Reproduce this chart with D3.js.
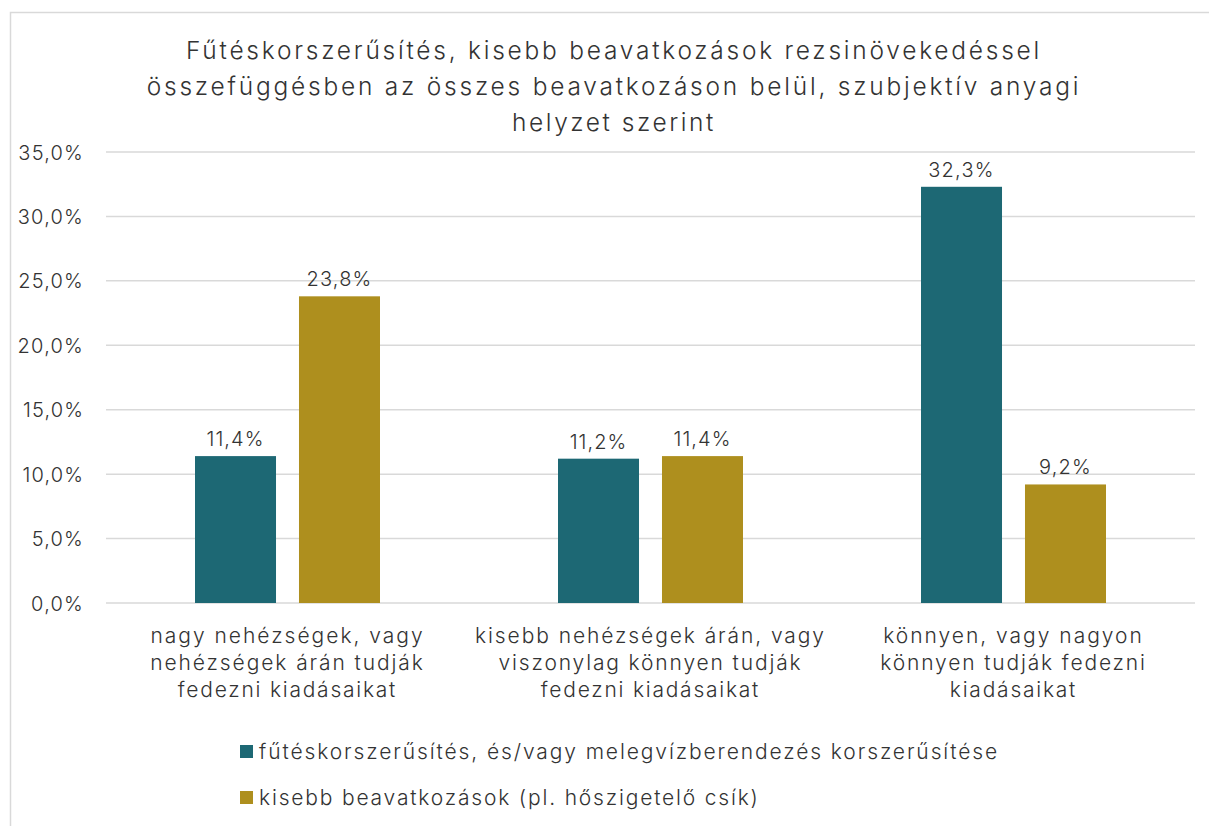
<!DOCTYPE html>
<html><head><meta charset="utf-8">
<script src="https://cdn.jsdelivr.net/npm/d3@7/dist/d3.min.js"></script>
<style>body{margin:0;background:#fff;}svg{display:block;font-family:Inter,"Open Sans",sans-serif;}</style>
</head><body><svg id="c" width="1209" height="826"></svg>
<script>
const titleLines = ["Fűtéskorszerűsítés, kisebb beavatkozások rezsinövekedéssel","összefüggésben az összes beavatkozáson belül, szubjektív anyagi","helyzet szerint"];
const categories = [
  ["nagy nehézségek, vagy","nehézségek árán tudják","fedezni kiadásaikat"],
  ["kisebb nehézségek árán, vagy","viszonylag könnyen tudják","fedezni kiadásaikat"],
  ["könnyen, vagy nagyon","könnyen tudják fedezni","kiadásaikat"]
];
const seriesNames = ["fűtéskorszerűsítés, és/vagy melegvízberendezés korszerűsítése","kisebb beavatkozások (pl. hőszigetelő csík)"];
const series1 = [11.4, 11.2, 32.3];
const series2 = [23.8, 11.4, 9.2];
const yTicks = [0,5,10,15,20,25,30,35];
const colors = ["#1d6874","#ae8f1e"];
const textColor = "#333333";

const svg = d3.select("#c");
svg.append("rect").attr("x",10.5).attr("y",12.5).attr("width",1220).attr("height",850)
  .attr("fill","none").attr("stroke","#d9d9d9").attr("stroke-width",1.5);

// widen text to mimic a broad geometric face
function stretch(sel, factor){
  sel.each(function(){
    const L = this.getComputedTextLength();
    const n = this.textContent.length;
    if(n>1) d3.select(this).attr("letter-spacing", ((factor-1)*L/n).toFixed(3));
  });
}

const fmt = v => d3.format(".1f")(v).replace(".", ",") + "%";
const x = d3.scaleBand().domain(d3.range(categories.length)).range([106,1195]);
const x1 = d3.scaleBand().domain([0,1]).range([0,x.bandwidth()]).paddingInner(0.221).paddingOuter(0.856);
const y = d3.scaleLinear().domain([0,35]).range([603,152]);

// gridlines
svg.append("g").selectAll("line").data(yTicks).join("line")
  .attr("x1",106).attr("x2",1195).attr("y1",d=>y(d)).attr("y2",d=>y(d))
  .attr("stroke","#d9d9d9").attr("stroke-width",1.5);

// y axis labels
const yAxis = d3.axisLeft(y).tickValues(yTicks).tickFormat(fmt).tickSize(0).tickPadding(0);
const ya = svg.append("g").attr("transform","translate(84,0)").call(yAxis);
ya.select(".domain").remove();
ya.selectAll("text").attr("font-size",20).attr("fill",textColor).attr("font-family","Inter, sans-serif").attr("font-weight",300).attr("dy","0.35em");
stretch(ya.selectAll("text"),1.1);

const data = categories.map((c,i)=>[series1[i],series2[i]]);
const g = svg.append("g");
data.forEach((vals,i)=>{
  vals.forEach((v,j)=>{
    const bx = x(i)+x1(j);
    g.append("rect").attr("x",bx).attr("y",y(v)).attr("width",x1.bandwidth()).attr("height",y(0)-y(v)).attr("fill",colors[j]);
    const t = g.append("text").attr("x",bx+x1.bandwidth()/2).attr("y",y(v)-10).attr("text-anchor","middle")
      .attr("font-size",20).attr("font-weight",300).attr("fill",textColor).text(fmt(v));
    stretch(t,1.1);
  });
});

// category labels
categories.forEach((lines,i)=>{
  lines.forEach((l,k)=>{
    const t = svg.append("text").attr("text-anchor","middle").attr("font-size",21).attr("font-weight",300).attr("fill",textColor)
      .attr("x",x(i)+x.bandwidth()/2).attr("y",643+k*27).text(l);
    stretch(t,1.18);
  });
});

// title
titleLines.forEach((l,k)=>{
  const t = svg.append("text").attr("text-anchor","middle").attr("font-size",24.5).attr("font-weight",300).attr("fill",textColor)
    .attr("x",614).attr("y",59+k*36).text(l);
  stretch(t,1.23);
});

// legend
seriesNames.forEach((n,j)=>{
  const ly = 752 + j*46;
  svg.append("rect").attr("x",240).attr("y",ly-7).attr("width",13).attr("height",13).attr("fill",colors[j]);
  const t = svg.append("text").attr("x",259).attr("y",ly+7).attr("font-size",21).attr("font-weight",300).attr("fill",textColor).text(n);
  stretch(t,1.185);
});
</script></body></html>
